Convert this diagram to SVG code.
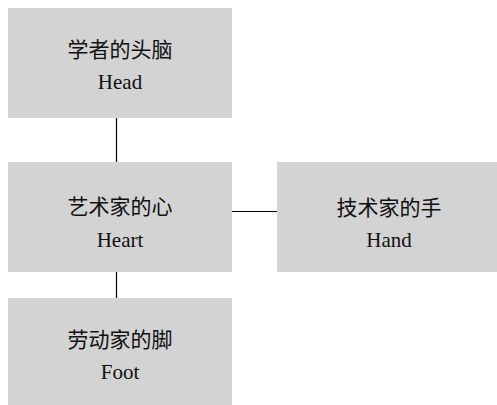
<svg xmlns="http://www.w3.org/2000/svg" width="497" height="405" viewBox="0 0 497 405">
<style>
.box{fill:#d3d3d3;stroke:none}
.t{font-family:"Liberation Serif","Noto Sans CJK SC",serif;font-size:21px;fill:#111;text-anchor:middle}
.c{stroke:#000;stroke-width:1.2;fill:none}
</style>
<rect width="497" height="405" fill="#fff"/>
<g id="connectors">
<line class="c" x1="116.5" y1="118" x2="116.5" y2="162"/>
<line class="c" x1="232" y1="211.5" x2="277" y2="211.5"/>
<line class="c" x1="116.5" y1="272" x2="116.5" y2="298"/>
</g>
<g id="head">
<rect class="box" x="8" y="8" width="224" height="110"/>
<text class="t" x="120" y="57">学者的头脑</text>
<text class="t" x="120" y="89">Head</text>
</g>
<g id="heart">
<rect class="box" x="8" y="162" width="224" height="110"/>
<text class="t" x="120" y="214">艺术家的心</text>
<text class="t" x="120" y="247">Heart</text>
</g>
<g id="hand">
<rect class="box" x="277" y="162" width="220" height="110"/>
<text class="t" x="389" y="215">技术家的手</text>
<text class="t" x="389" y="247">Hand</text>
</g>
<g id="foot">
<rect class="box" x="8" y="298" width="224" height="107"/>
<text class="t" x="120" y="347">劳动家的脚</text>
<text class="t" x="120" y="379">Foot</text>
</g>
</svg>
